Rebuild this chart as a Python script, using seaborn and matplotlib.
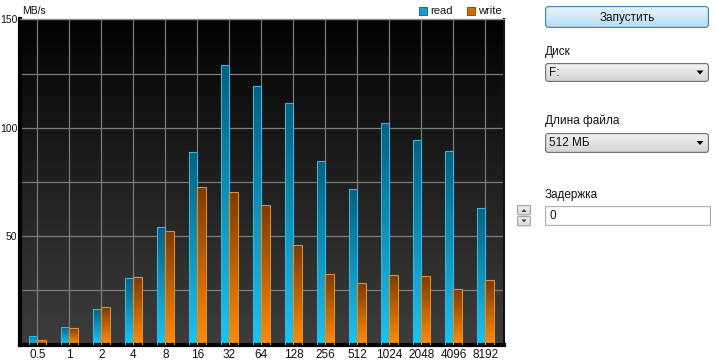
import numpy as np
import pandas as pd
import matplotlib
matplotlib.use("Agg")
import matplotlib.pyplot as plt
import seaborn as sns
from matplotlib.patches import Rectangle, FancyBboxPatch, Polygon
from matplotlib.colors import to_rgb

# ---------------- data ----------------
block_sizes = ["0.5", "1", "2", "4", "8", "16", "32", "64", "128", "256",
               "512", "1024", "2048", "4096", "8192"]
read_mbs = [3.7, 8.3, 16.2, 30.6, 54.2, 89.0, 128.9, 119.1, 111.3, 84.8,
            71.8, 102.4, 94.5, 89.4, 63.1]
write_mbs = [1.9, 7.6, 17.1, 31.0, 52.3, 72.9, 70.6, 64.6, 45.8, 32.7,
             28.2, 31.9, 31.5, 25.5, 29.6]
series_names = ["read", "write"]
y_major = [50, 100, 150]
y_minor = [25, 75, 125]

df = pd.DataFrame({
    "size": block_sizes * 2,
    "speed": read_mbs + write_mbs,
    "kind": ["read"] * len(block_sizes) + ["write"] * len(block_sizes),
})

W, H = 716, 364
sns.set_theme(style="white")
plt.rcParams["font.family"] = ["Liberation Sans", "DejaVu Sans"]

fig = plt.figure(figsize=(W / 100, H / 100), dpi=100)
fig.patch.set_facecolor("white")


def fbox(x0, y0, x1, y1):
    """pixel box (top-based) -> figure fraction rect"""
    return [x0 / W, 1 - y1 / H, (x1 - x0) / W, (y1 - y0) / H]


ax = fig.add_axes(fbox(20, 19.5, 504, 344.5))

palette = {"read": "#1aa6d8", "write": "#e07810"}
sns.barplot(data=df, x="size", y="speed", hue="kind", order=block_sizes,
            hue_order=series_names, palette=palette, width=0.54, gap=0,
            legend=False, ax=ax, saturation=1, errorbar=None)

# background gradient
bg = np.linspace(0, 1, 256)[:, None]
top_bg = np.array(to_rgb("#020202"))
bot_bg = np.array(to_rgb("#3d3d3d"))
bgimg = (top_bg * (1 - bg) + bot_bg * bg)[:, None, :]
ax.imshow(bgimg, extent=[0, 1, 0, 1], transform=ax.transAxes, aspect="auto",
          origin="upper", zorder=0, interpolation="bilinear")

grad = {
    "read": (np.array(to_rgb("#05607f")), np.array(to_rgb("#1cc4f4")), "#36b4e4"),
    "write": (np.array(to_rgb("#7a3a04")), np.array(to_rgb("#ff8c08")), "#e88a2a"),
}
read_rgb = np.array(to_rgb(palette["read"]))
for p in list(ax.patches):
    fc = np.array(p.get_facecolor()[:3])
    kind = "read" if np.allclose(fc, read_rgb, atol=0.02) else "write"
    top, bot, edge = grad[kind]
    x0, y0, w, h = p.get_x(), p.get_y(), p.get_width(), p.get_height()
    t = np.linspace(0, 1, 128)[:, None]
    img = (top * (1 - t) + bot * t)[:, None, :]
    im = ax.imshow(img, extent=[x0, x0 + w, y0, y0 + h], aspect="auto",
                   origin="upper", zorder=2, interpolation="bilinear")
    im.set_clip_path(p)
    p.set_facecolor("none")
    p.set_edgecolor(edge)
    p.set_linewidth(0.8)
    p.set_zorder(3)

ax.set_xlim(-0.54, 14.58)
ax.set_ylim(0, 150)
ax.set_xticks(range(len(block_sizes)))
ax.set_xticklabels(block_sizes, fontsize=8.5, color="#111111")
ax.set_yticks(y_major)
ax.set_yticklabels([str(v) for v in y_major], fontsize=7.5, color="#111111")
ax.set_yticks(y_minor, minor=True)
ax.tick_params(axis="both", which="both", length=0)
ax.tick_params(axis="y", pad=2)
ax.tick_params(axis="x", pad=3)
ax.set_xlabel("")
ax.set_ylabel("")
ax.set_axisbelow(True)
ax.grid(True, which="both", axis="both", color="#7c7c7c", linewidth=0.9)
for s in ["left", "bottom"]:
    ax.spines[s].set_color("black")
    ax.spines[s].set_linewidth(3)
ax.spines["right"].set_color("#111111")
ax.spines["right"].set_linewidth(1.5)
ax.spines["top"].set_color("#8a8a8a")
ax.spines["top"].set_linewidth(0.9)

fig.text(22 / W, 1 - 11 / H, "MB/s", fontsize=7.5, va="center", ha="left", color="#111111")

# legend
for (x0, name, fc, ec) in [(419, "read", "#1a9ad0", "#0a5f85"),
                           (467, "write", "#d4680a", "#7d400c")]:
    fig.add_artist(Rectangle((x0 / W, 1 - 15 / H), 8 / W, 8 / H,
                             transform=fig.transFigure, facecolor=fc,
                             edgecolor=ec, linewidth=0.6))
    fig.text((x0 + 11.5) / W, 1 - 11 / H, name, fontsize=8, va="center",
             ha="left", color="#111111")


# ---------------- right side form widgets ----------------
def grad_widget(x0, y0, x1, y1, top_c, bot_c, edge_c, rad=3):
    wax = fig.add_axes(fbox(x0, y0, x1, y1))
    wax.set_xlim(0, x1 - x0)
    wax.set_ylim(0, y1 - y0)
    wax.axis("off")
    t = np.linspace(0, 1, 64)[:, None]
    tc, bc = np.array(to_rgb(top_c)), np.array(to_rgb(bot_c))
    img = (tc * (1 - t) + bc * t)[:, None, :]
    box = FancyBboxPatch((0.6, 0.6), x1 - x0 - 1.2, y1 - y0 - 1.2,
                         boxstyle=f"round,pad=0,rounding_size={rad}",
                         facecolor="none", edgecolor=edge_c, linewidth=0.8,
                         zorder=3)
    wax.add_patch(box)
    im = wax.imshow(img, extent=[0, x1 - x0, 0, y1 - y0], aspect="auto",
                    origin="upper", zorder=1, interpolation="bilinear")
    im.set_clip_path(box)
    wax.set_xlim(0, x1 - x0)
    wax.set_ylim(0, y1 - y0)
    return wax


ui_font = 8.5
# button
grad_widget(545, 6, 709, 28, "#eaf6fd", "#b4dcf2", "#3c7fb1", rad=3)
fig.text(627 / W, 1 - 17.5 / H, "Запустить", fontsize=ui_font, ha="center",
         va="center", color="#111111")

# combo 1
fig.text(545 / W, 1 - 52 / H, "Диск", fontsize=ui_font, ha="left", va="center", color="#111111")
c1 = grad_widget(545, 63, 709, 82, "#f4f4f4", "#d2d2d2", "#707070", rad=2.5)
fig.text(549 / W, 1 - 72.5 / H, "F:", fontsize=ui_font, ha="left", va="center", color="#111111")
c1.add_patch(Polygon([[151.5, 11.5], [158.5, 11.5], [155, 7.5]], closed=True,
                     facecolor="black", edgecolor="none", zorder=5))

# combo 2
fig.text(545 / W, 1 - 121 / H, "Длина файла", fontsize=ui_font, ha="left", va="center", color="#111111")
c2 = grad_widget(545, 133, 709, 153, "#f4f4f4", "#d2d2d2", "#707070", rad=2.5)
fig.text(549 / W, 1 - 143.5 / H, "512 МБ", fontsize=ui_font, ha="left", va="center", color="#111111")
c2.add_patch(Polygon([[151.5, 12], [158.5, 12], [155, 8]], closed=True,
                     facecolor="black", edgecolor="none", zorder=5))

# text box
fig.text(545 / W, 1 - 195 / H, "Задержка", fontsize=ui_font, ha="left", va="center", color="#111111")
grad_widget(545, 206, 711, 226, "#ffffff", "#ffffff", "#abadb3", rad=0.5)
fig.text(549 / W, 1 - 216 / H, "0", fontsize=ui_font, ha="left", va="center", color="#111111")

# spinner
s1 = grad_widget(517, 205, 531, 215.5, "#f6f6f6", "#dadada", "#a0a0a0", rad=1)
s1.add_patch(Polygon([[4.5, 3.5], [9.5, 3.5], [7, 6.5]], closed=True,
                     facecolor="#404040", edgecolor="none", zorder=5))
s2 = grad_widget(517, 216, 531, 226.5, "#f6f6f6", "#dadada", "#a0a0a0", rad=1)
s2.add_patch(Polygon([[4.5, 7], [9.5, 7], [7, 4]], closed=True,
                     facecolor="#404040", edgecolor="none", zorder=5))

fig.savefig("out.png", dpi=100, facecolor="white")
